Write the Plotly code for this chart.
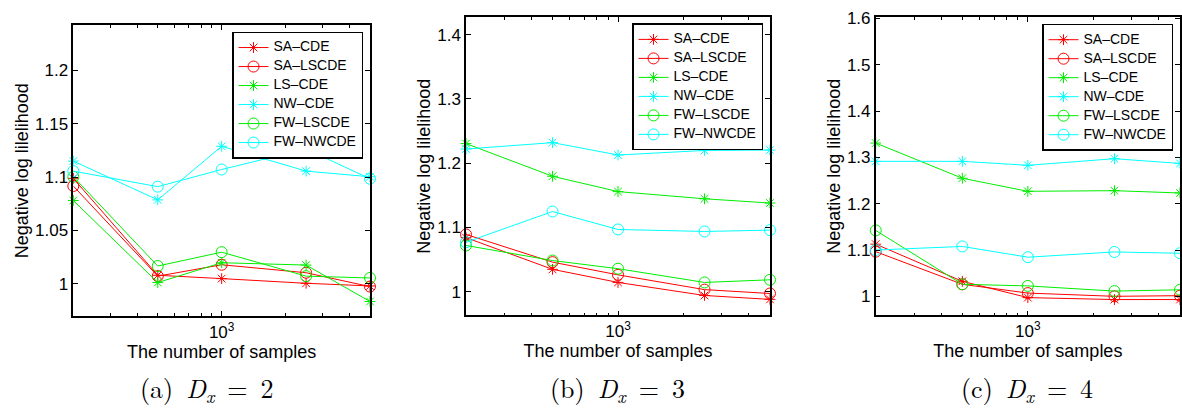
import plotly.graph_objects as go

samples = [200, 500, 1000, 2500, 5000]
series_names = ["SA–CDE", "SA–LSCDE", "LS–CDE", "NW–CDE", "FW–LSCDE", "FW–NWCDE"]
series_colors = ["#ff0000", "#ff0000", "#00ee00", "#00ffff", "#00ee00", "#00ffff"]
series_symbols = ["asterisk-open", "circle-open", "asterisk-open", "asterisk-open", "circle-open", "circle-open"]

# Panel (a) D_x = 2
a_sa_cde = [1.0988, 1.0078, 1.0047, 1.0003, 0.9978]
a_sa_lscde = [1.0916, 1.0070, 1.0177, 1.0102, 0.9972]
a_ls_cde = [1.0780, 1.0010, 1.0196, 1.0174, 0.9832]
a_nw_cde = [1.1150, 1.0786, 1.1289, 1.1056, 1.1003]
a_fw_lscde = [1.1003, 1.0165, 1.0295, 1.0070, 1.0053]
a_fw_nwcde = [1.1056, 1.0910, 1.1071, 1.1264, 1.0984]

# Panel (b) D_x = 3
b_sa_cde = [1.0840, 1.0346, 1.0142, 0.9939, 0.9878]
b_sa_lscde = [1.0890, 1.0458, 1.0260, 1.0030, 0.9970]
b_ls_cde = [1.2305, 1.1796, 1.1557, 1.1445, 1.1379]
b_nw_cde = [1.2220, 1.2320, 1.2127, 1.2198, 1.2204]
b_fw_lscde = [1.0718, 1.0483, 1.0356, 1.0142, 1.0183]
b_fw_nwcde = [1.0768, 1.1247, 1.0967, 1.0936, 1.0957]

# Panel (c) D_x = 4
c_sa_cde = [1.1127, 1.0324, 0.9972, 0.9930, 0.9930]
c_sa_lscde = [1.0965, 1.0260, 1.0070, 1.0000, 1.0014]
c_ls_cde = [1.3310, 1.2550, 1.2268, 1.2282, 1.2232]
c_nw_cde = [1.2915, 1.2915, 1.2830, 1.2972, 1.2870]
c_fw_lscde = [1.1423, 1.0260, 1.0225, 1.0113, 1.0141]
c_fw_nwcde = [1.1000, 1.1077, 1.0845, 1.0958, 1.0930]

panels = [
    [a_sa_cde, a_sa_lscde, a_ls_cde, a_nw_cde, a_fw_lscde, a_fw_nwcde],
    [b_sa_cde, b_sa_lscde, b_ls_cde, b_nw_cde, b_fw_lscde, b_fw_nwcde],
    [c_sa_cde, c_sa_lscde, c_ls_cde, c_nw_cde, c_fw_lscde, c_fw_nwcde],
]
caption_labels = ["(a)", "(b)", "(c)"]
caption_dims = ["2", "3", "4"]
y_ranges = [[0.9696, 1.2424], [0.963, 1.4275], [0.959, 1.603]]
y_ticks = [[1, 1.05, 1.1, 1.15, 1.2], [1, 1.1, 1.2, 1.3, 1.4], [1, 1.1, 1.2, 1.3, 1.4, 1.5, 1.6]]
minor_x = [300, 400, 500, 600, 700, 800, 900, 2000, 3000, 4000]
x_range_log = [2.30099, 3.69901]

W, H = 1182, 418
# pixel boxes for axes: (left, right, top, bottom)
boxes = [(73.3, 370, 17.7, 314), (466, 770, 9.3, 313.3), (875.7, 1180, 9.3, 313.3)]
legend_pos = [(363, 24), (763, 15.7), (1173, 16)]
caption_x = [207, 617, 1027]

fig = go.Figure()
font_main = "Liberation Sans, Arial, Helvetica, sans-serif"

for p in range(3):
    xname = "x" if p == 0 else f"x{p+1}"
    yname = "y" if p == 0 else f"y{p+1}"
    lname = "legend" if p == 0 else f"legend{p+1}"
    for name, col, sym, vals in zip(series_names, series_colors, series_symbols, panels[p]):
        fig.add_trace(go.Scatter(
            x=samples, y=vals, name=f'<span style="font-size:14px">{name}</span>',
            mode="lines+markers",
            line=dict(color=col, width=1),
            marker=dict(symbol=sym, size=11 if "circle" in sym else 9, color=col,
                        line=dict(color=col, width=1)),
            xaxis=xname, yaxis=yname, legend=lname, cliponaxis=False,
        ))
    l, r, t, b = boxes[p]
    xa = dict(
        type="log", range=x_range_log, domain=[l / W, r / W],
        anchor=yname, showline=True, linecolor="black", linewidth=1.5, mirror="allticks",
        ticks="inside", ticklen=5, tickcolor="black",
        tickvals=[1000], ticktext=["10<sup>3</sup>"],
        minor=dict(tickmode="array", tickvals=minor_x, ticks="inside", ticklen=3, tickcolor="black"),
        showgrid=False, zeroline=False,
        tickfont=dict(family=font_main, size=17, color="black"),
        title=dict(text="The number of samples", font=dict(family=font_main, size=18, color="black"), standoff=0),
    )
    ya = dict(
        range=y_ranges[p], domain=[1 - b / H, 1 - t / H], anchor=xname,
        showline=True, linecolor="black", linewidth=1.5, mirror="allticks",
        ticks="inside", ticklen=5, tickcolor="black", tickvals=y_ticks[p],
        showgrid=False, zeroline=False,
        tickfont=dict(family=font_main, size=17, color="black"),
        title=dict(text="Negative log lilelihood", font=dict(family=font_main, size=18, color="black"), standoff=2),
    )
    fig.layout[("xaxis" if p == 0 else f"xaxis{p+1}")] = xa
    fig.layout[("yaxis" if p == 0 else f"yaxis{p+1}")] = ya
    lx, ly = legend_pos[p]
    fig.layout[lname] = dict(
        x=lx / W, y=1 - ly / H, xanchor="right", yanchor="top",
        bgcolor="white", bordercolor="black", borderwidth=1.5,
        font=dict(family=font_main, size=10, color="black"),
        tracegroupgap=0, itemwidth=30,
    )
    fig.add_annotation(
        text=f"{caption_labels[p]}&nbsp;<i>D</i><sub><i>x</i></sub>&nbsp;=&nbsp;{caption_dims[p]}",
        x=caption_x[p] / W, y=1 - 410 / H, xref="paper", yref="paper",
        showarrow=False, xanchor="center", yanchor="bottom",
        font=dict(family="Latin Modern Roman, DejaVu Serif, Liberation Serif, serif", size=26, color="black"),
    )

fig.update_layout(
    width=W, height=H, margin=dict(l=0, r=0, t=0, b=0),
    paper_bgcolor="white", plot_bgcolor="white", showlegend=True,
)

fig.write_html("out.html", config={"displayModeBar": False},
               post_script="document.body.style.margin='0';document.body.style.overflow='hidden';")
